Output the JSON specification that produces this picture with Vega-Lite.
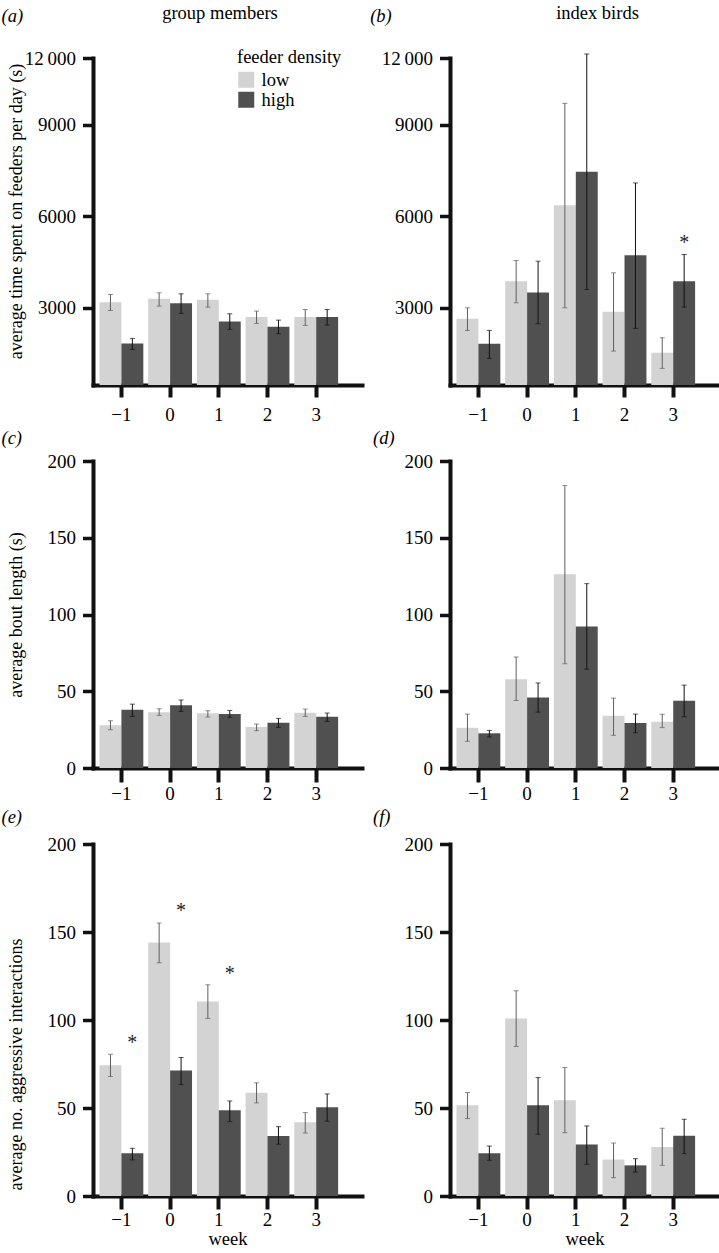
{
  "$schema": "https://vega.github.io/schema/vega-lite/v6.json",
  "padding": {"left": 1, "top": 3, "right": 0, "bottom": 0},
  "background": "white",
  "config": {
    "font": "Liberation Serif",
    "view": {"stroke": null},
    "axis": {"labelFont": "Liberation Serif", "titleFont": "Liberation Serif", "labelFontSize": 19, "titleFontSize": 18, "titleFontWeight": "normal", "labelColor": "#000", "titleColor": "#000", "domainColor": "#111", "tickColor": "#111", "domainWidth": 4, "tickWidth": 4, "domainCap": "square", "grid": false, "labelAngle": 0},
    "legend": {"labelFont": "Liberation Serif", "titleFont": "Liberation Serif", "labelFontSize": 18.5, "titleFontSize": 18.5, "titleFontWeight": "normal", "labelColor": "#000", "titleColor": "#000"},
    "title": {"font": "Liberation Serif", "fontSize": 18.5, "fontWeight": "normal", "fontStyle": "italic", "color": "#000", "anchor": "start", "frame": "bounds", "offset": 6},
    "text": {"font": "Liberation Serif"}
  },
  "datasets": {
    "bars": [
      {"panel": "a", "week": -1, "density": "low", "mean": 3185, "lo": 2913, "hi": 3436},
      {"panel": "a", "week": -1, "density": "high", "mean": 1833, "lo": 1636, "hi": 1996},
      {"panel": "a", "week": 0, "density": "low", "mean": 3295, "lo": 3055, "hi": 3491},
      {"panel": "a", "week": 0, "density": "high", "mean": 3153, "lo": 2815, "hi": 3458},
      {"panel": "a", "week": 1, "density": "low", "mean": 3262, "lo": 3022, "hi": 3458},
      {"panel": "a", "week": 1, "density": "high", "mean": 2553, "lo": 2291, "hi": 2804},
      {"panel": "a", "week": 2, "density": "low", "mean": 2695, "lo": 2487, "hi": 2891},
      {"panel": "a", "week": 2, "density": "high", "mean": 2378, "lo": 2149, "hi": 2596},
      {"panel": "a", "week": 3, "density": "low", "mean": 2695, "lo": 2422, "hi": 2945},
      {"panel": "a", "week": 3, "density": "high", "mean": 2695, "lo": 2433, "hi": 2945},
      {"panel": "b", "week": -1, "density": "low", "mean": 2640, "lo": 2258, "hi": 3000},
      {"panel": "b", "week": -1, "density": "high", "mean": 1822, "lo": 1342, "hi": 2258},
      {"panel": "b", "week": 0, "density": "low", "mean": 3873, "lo": 3164, "hi": 4549},
      {"panel": "b", "week": 0, "density": "high", "mean": 3502, "lo": 2476, "hi": 4527},
      {"panel": "b", "week": 1, "density": "low", "mean": 6360, "lo": 3000, "hi": 9960},
      {"panel": "b", "week": 1, "density": "high", "mean": 7462, "lo": 3600, "hi": 12180},
      {"panel": "b", "week": 2, "density": "low", "mean": 2869, "lo": 1582, "hi": 4146},
      {"panel": "b", "week": 2, "density": "high", "mean": 4724, "lo": 2324, "hi": 7091},
      {"panel": "b", "week": 3, "density": "low", "mean": 1527, "lo": 1014, "hi": 2018},
      {"panel": "b", "week": 3, "density": "high", "mean": 3873, "lo": 3022, "hi": 4746},
      {"panel": "c", "week": -1, "density": "low", "mean": 27.8, "lo": 24.9, "hi": 30.8},
      {"panel": "c", "week": -1, "density": "high", "mean": 38, "lo": 33.6, "hi": 41.6},
      {"panel": "c", "week": 0, "density": "low", "mean": 36.4, "lo": 34.3, "hi": 38.6},
      {"panel": "c", "week": 0, "density": "high", "mean": 40.8, "lo": 36.9, "hi": 44.3},
      {"panel": "c", "week": 1, "density": "low", "mean": 35.6, "lo": 33.2, "hi": 37.3},
      {"panel": "c", "week": 1, "density": "high", "mean": 35.1, "lo": 33, "hi": 37.5},
      {"panel": "c", "week": 2, "density": "low", "mean": 26.7, "lo": 24.3, "hi": 28.6},
      {"panel": "c", "week": 2, "density": "high", "mean": 29.5, "lo": 26.5, "hi": 32.3},
      {"panel": "c", "week": 3, "density": "low", "mean": 36, "lo": 33.6, "hi": 38.4},
      {"panel": "c", "week": 3, "density": "high", "mean": 33.4, "lo": 30.4, "hi": 35.8},
      {"panel": "d", "week": -1, "density": "low", "mean": 26.2, "lo": 17.4, "hi": 35.1},
      {"panel": "d", "week": -1, "density": "high", "mean": 22.6, "lo": 20.2, "hi": 24.5},
      {"panel": "d", "week": 0, "density": "low", "mean": 57.8, "lo": 43.9, "hi": 72.3},
      {"panel": "d", "week": 0, "density": "high", "mean": 45.9, "lo": 36.4, "hi": 55.4},
      {"panel": "d", "week": 1, "density": "low", "mean": 126.2, "lo": 67.9, "hi": 184},
      {"panel": "d", "week": 1, "density": "high", "mean": 92.2, "lo": 64.4, "hi": 120.1},
      {"panel": "d", "week": 2, "density": "low", "mean": 34, "lo": 21.3, "hi": 45.5},
      {"panel": "d", "week": 2, "density": "high", "mean": 29.3, "lo": 23, "hi": 35.1},
      {"panel": "d", "week": 3, "density": "low", "mean": 30.2, "lo": 26.3, "hi": 35},
      {"panel": "d", "week": 3, "density": "high", "mean": 43.8, "lo": 33.4, "hi": 54},
      {"panel": "e", "week": -1, "density": "low", "mean": 74.3, "lo": 67.9, "hi": 80.6},
      {"panel": "e", "week": -1, "density": "high", "mean": 24.3, "lo": 20.5, "hi": 27.1},
      {"panel": "e", "week": 0, "density": "low", "mean": 144.1, "lo": 132.5, "hi": 155.1},
      {"panel": "e", "week": 0, "density": "high", "mean": 71.3, "lo": 63.3, "hi": 78.7},
      {"panel": "e", "week": 1, "density": "low", "mean": 110.5, "lo": 100.9, "hi": 120},
      {"panel": "e", "week": 1, "density": "high", "mean": 48.7, "lo": 42.3, "hi": 54},
      {"panel": "e", "week": 2, "density": "low", "mean": 58.6, "lo": 52.9, "hi": 64.3},
      {"panel": "e", "week": 2, "density": "high", "mean": 34.1, "lo": 29.4, "hi": 39.4},
      {"panel": "e", "week": 3, "density": "low", "mean": 41.9, "lo": 35.8, "hi": 47.4},
      {"panel": "e", "week": 3, "density": "high", "mean": 50.4, "lo": 42.5, "hi": 58},
      {"panel": "f", "week": -1, "density": "low", "mean": 51.6, "lo": 44, "hi": 58.8},
      {"panel": "f", "week": -1, "density": "high", "mean": 24.3, "lo": 20.3, "hi": 28.4},
      {"panel": "f", "week": 0, "density": "low", "mean": 100.9, "lo": 84.9, "hi": 116.6},
      {"panel": "f", "week": 0, "density": "high", "mean": 51.6, "lo": 35.1, "hi": 67.3},
      {"panel": "f", "week": 1, "density": "low", "mean": 54.4, "lo": 36, "hi": 73},
      {"panel": "f", "week": 1, "density": "high", "mean": 29.2, "lo": 18, "hi": 39.8},
      {"panel": "f", "week": 2, "density": "low", "mean": 20.7, "lo": 10.4, "hi": 30.1},
      {"panel": "f", "week": 2, "density": "high", "mean": 17.4, "lo": 13.6, "hi": 21.2},
      {"panel": "f", "week": 3, "density": "low", "mean": 27.9, "lo": 17.4, "hi": 38.5},
      {"panel": "f", "week": 3, "density": "high", "mean": 34.3, "lo": 24.1, "hi": 43.6}
    ],
    "stars": [
      {"panel": "b", "week": 3, "density": "high", "pos": 5127, "label": "*"},
      {"panel": "e", "week": -1, "density": "high", "pos": 87.2, "label": "*"},
      {"panel": "e", "week": 0, "density": "high", "pos": 162.1, "label": "*"},
      {"panel": "e", "week": 1, "density": "high", "pos": 126.4, "label": "*"}
    ]
  },
  "resolve": {"scale": {"color": "independent"}, "legend": {"color": "independent"}},
  "columns": 2,
  "spacing": {"row": 4, "column": 8},
  "concat": [
    {
      "width": 269, "height": 327,
      "title": {"text": "(a)", "dx": -6, "offset": -22},
      "data": {"name": "bars"},
      "transform": [{"filter": "datum.panel === 'a'"}],
      "resolve": {"axis": {"x": "independent"}},
      "layer": [
        {"mark": {"type": "bar"},
         "encoding": {
           "x": {"field": "week", "type": "ordinal", "scale": {"type": "band", "paddingInner": 0.1, "paddingOuter": 0.312, "align": 0.214}, "axis": {"title": null, "labelExpr": "replace(datum.label, '-', '−')", "tickSize": 12, "labelPadding": 8}},
           "xOffset": {"field": "density", "type": "nominal", "sort": ["low", "high"], "scale": {"paddingInner": 0, "paddingOuter": 0}},
           "y": {"field": "mean", "type": "quantitative", "scale": {"domain": [470, 9000, 12000], "range": [327, 66.7, 0], "zero": false, "nice": false}, "axis": {"title": "average time spent on feeders per day (s)", "values": [3000, 6000, 9000, 12000], "format": "d", "labelExpr": "datum.value === 12000 ? '12\u2009000' : datum.label", "tickSize": 10.5, "tickWidth": 3.5, "labelPadding": 7, "minExtent": 66, "maxExtent": 66, "titlePadding": 1.5, "titleY": 153}},
           "y2": {"datum": 470},
           "color": {"field": "density", "type": "nominal", "sort": ["low", "high"], "scale": {"domain": ["low", "high"], "range": ["#d3d3d3", "#505050"]}, "legend": {"title": "feeder density", "orient": "none", "legendX": 144, "legendY": -10, "symbolType": "square", "symbolSize": 256, "symbolStrokeWidth": 0, "titlePadding": 4, "rowPadding": 1, "labelOffset": 6, "padding": 0}}
         }},
        {"mark": {"type": "rule", "strokeWidth": 1},
         "encoding": {
           "x": {"field": "week", "type": "ordinal", "axis": {"orient": "top", "title": "group members", "titleFontSize": 18.5, "labels": false, "ticks": false, "domain": false, "minExtent": 0, "maxExtent": 0, "titlePadding": 36, "titleX": 126.5}},
           "xOffset": {"field": "density", "type": "nominal", "sort": ["low", "high"]},
           "y": {"field": "lo", "type": "quantitative", "scale": {"domain": [470, 9000, 12000], "range": [327, 66.7, 0], "zero": false, "nice": false}},
           "y2": {"field": "hi"},
           "color": {"condition": {"test": "datum.density === 'low'", "value": "#5f5f5f"}, "value": "#111111"}
         }},
        {"mark": {"type": "tick", "size": 5, "thickness": 1},
         "encoding": {
           "x": {"field": "week", "type": "ordinal", "axis": null},
           "xOffset": {"field": "density", "type": "nominal", "sort": ["low", "high"]},
           "y": {"field": "lo", "type": "quantitative", "scale": {"domain": [470, 9000, 12000], "range": [327, 66.7, 0], "zero": false, "nice": false}},
           "color": {"condition": {"test": "datum.density === 'low'", "value": "#5f5f5f"}, "value": "#111111"}
         }},
        {"mark": {"type": "tick", "size": 5, "thickness": 1},
         "encoding": {
           "x": {"field": "week", "type": "ordinal", "axis": null},
           "xOffset": {"field": "density", "type": "nominal", "sort": ["low", "high"]},
           "y": {"field": "hi", "type": "quantitative", "scale": {"domain": [470, 9000, 12000], "range": [327, 66.7, 0], "zero": false, "nice": false}},
           "color": {"condition": {"test": "datum.density === 'low'", "value": "#5f5f5f"}, "value": "#111111"}
         }}
      ]
    },
    {
      "width": 269, "height": 327,
      "title": {"text": "(b)", "dx": -11, "offset": -22},
      "data": {"name": "bars"},
      "transform": [{"filter": "datum.panel === 'b'"}],
      "resolve": {"axis": {"x": "independent"}},
      "layer": [
        {"mark": {"type": "bar"},
         "encoding": {
           "x": {"field": "week", "type": "ordinal", "scale": {"type": "band", "paddingInner": 0.1, "paddingOuter": 0.312, "align": 0.214}, "axis": {"title": null, "labelExpr": "replace(datum.label, '-', '−')", "tickSize": 12, "labelPadding": 8}},
           "xOffset": {"field": "density", "type": "nominal", "sort": ["low", "high"], "scale": {"paddingInner": 0, "paddingOuter": 0}},
           "y": {"field": "mean", "type": "quantitative", "scale": {"domain": [470, 9000, 12000], "range": [327, 66.7, 0], "zero": false, "nice": false}, "axis": {"title": null, "values": [3000, 6000, 9000, 12000], "format": "d", "labelExpr": "datum.value === 12000 ? '12\u2009000' : datum.label", "tickSize": 10.5, "tickWidth": 3.5, "labelPadding": 7, "minExtent": 66, "maxExtent": 66}},
           "y2": {"datum": 470},
           "color": {"field": "density", "type": "nominal", "sort": ["low", "high"], "scale": {"domain": ["low", "high"], "range": ["#d3d3d3", "#505050"]}, "legend": null}
         }},
        {"mark": {"type": "rule", "strokeWidth": 1},
         "encoding": {
           "x": {"field": "week", "type": "ordinal", "axis": {"orient": "top", "title": "index birds", "titleFontSize": 18.5, "labels": false, "ticks": false, "domain": false, "minExtent": 0, "maxExtent": 0, "titlePadding": 36, "titleX": 147}},
           "xOffset": {"field": "density", "type": "nominal", "sort": ["low", "high"]},
           "y": {"field": "lo", "type": "quantitative", "scale": {"domain": [470, 9000, 12000], "range": [327, 66.7, 0], "zero": false, "nice": false}},
           "y2": {"field": "hi"},
           "color": {"condition": {"test": "datum.density === 'low'", "value": "#5f5f5f"}, "value": "#111111"}
         }},
        {"mark": {"type": "tick", "size": 5, "thickness": 1},
         "encoding": {
           "x": {"field": "week", "type": "ordinal", "axis": null},
           "xOffset": {"field": "density", "type": "nominal", "sort": ["low", "high"]},
           "y": {"field": "lo", "type": "quantitative", "scale": {"domain": [470, 9000, 12000], "range": [327, 66.7, 0], "zero": false, "nice": false}},
           "color": {"condition": {"test": "datum.density === 'low'", "value": "#5f5f5f"}, "value": "#111111"}
         }},
        {"mark": {"type": "tick", "size": 5, "thickness": 1},
         "encoding": {
           "x": {"field": "week", "type": "ordinal", "axis": null},
           "xOffset": {"field": "density", "type": "nominal", "sort": ["low", "high"]},
           "y": {"field": "hi", "type": "quantitative", "scale": {"domain": [470, 9000, 12000], "range": [327, 66.7, 0], "zero": false, "nice": false}},
           "color": {"condition": {"test": "datum.density === 'low'", "value": "#5f5f5f"}, "value": "#111111"}
         }},
        {"data": {"name": "stars"},
         "transform": [{"filter": "datum.panel === 'b'"}],
         "mark": {"type": "text", "fontSize": 20, "baseline": "middle", "color": "#222"},
         "encoding": {
           "x": {"field": "week", "type": "ordinal", "axis": null},
           "xOffset": {"field": "density", "type": "nominal", "sort": ["low", "high"]},
           "y": {"field": "pos", "type": "quantitative", "scale": {"domain": [470, 9000, 12000], "range": [327, 66.7, 0], "zero": false, "nice": false}},
           "text": {"field": "label"}
         }}
      ]
    },
    {
      "width": 269, "height": 307,
      "title": {"text": "(c)", "dx": -6, "offset": 5},
      "data": {"name": "bars"},
      "transform": [{"filter": "datum.panel === 'c'"}],
      "layer": [
        {"mark": {"type": "bar"},
         "encoding": {
           "x": {"field": "week", "type": "ordinal", "scale": {"type": "band", "paddingInner": 0.1, "paddingOuter": 0.312, "align": 0.214}, "axis": {"title": null, "labelExpr": "replace(datum.label, '-', '−')", "tickSize": 14, "labelPadding": 2}},
           "xOffset": {"field": "density", "type": "nominal", "sort": ["low", "high"], "scale": {"paddingInner": 0, "paddingOuter": 0}},
           "y": {"field": "mean", "type": "quantitative", "scale": {"domain": [0, 200], "nice": false}, "axis": {"title": "average bout length (s)", "values": [0, 50, 100, 150, 200], "format": "d", "tickSize": 10.5, "tickWidth": 3.5, "labelPadding": 7, "minExtent": 66, "maxExtent": 66, "titlePadding": 1.5}},
           "color": {"field": "density", "type": "nominal", "sort": ["low", "high"], "scale": {"domain": ["low", "high"], "range": ["#d3d3d3", "#505050"]}, "legend": null}
         }},
        {"mark": {"type": "rule", "strokeWidth": 1},
         "encoding": {
           "x": {"field": "week", "type": "ordinal"},
           "xOffset": {"field": "density", "type": "nominal", "sort": ["low", "high"]},
           "y": {"field": "lo", "type": "quantitative"},
           "y2": {"field": "hi"},
           "color": {"condition": {"test": "datum.density === 'low'", "value": "#5f5f5f"}, "value": "#111111"}
         }},
        {"mark": {"type": "tick", "size": 5, "thickness": 1},
         "encoding": {
           "x": {"field": "week", "type": "ordinal"},
           "xOffset": {"field": "density", "type": "nominal", "sort": ["low", "high"]},
           "y": {"field": "lo", "type": "quantitative"},
           "color": {"condition": {"test": "datum.density === 'low'", "value": "#5f5f5f"}, "value": "#111111"}
         }},
        {"mark": {"type": "tick", "size": 5, "thickness": 1},
         "encoding": {
           "x": {"field": "week", "type": "ordinal"},
           "xOffset": {"field": "density", "type": "nominal", "sort": ["low", "high"]},
           "y": {"field": "hi", "type": "quantitative"},
           "color": {"condition": {"test": "datum.density === 'low'", "value": "#5f5f5f"}, "value": "#111111"}
         }}
      ]
    },
    {
      "width": 269, "height": 307,
      "title": {"text": "(d)", "dx": -11, "offset": 5},
      "data": {"name": "bars"},
      "transform": [{"filter": "datum.panel === 'd'"}],
      "layer": [
        {"mark": {"type": "bar"},
         "encoding": {
           "x": {"field": "week", "type": "ordinal", "scale": {"type": "band", "paddingInner": 0.1, "paddingOuter": 0.312, "align": 0.214}, "axis": {"title": null, "labelExpr": "replace(datum.label, '-', '−')", "tickSize": 14, "labelPadding": 2}},
           "xOffset": {"field": "density", "type": "nominal", "sort": ["low", "high"], "scale": {"paddingInner": 0, "paddingOuter": 0}},
           "y": {"field": "mean", "type": "quantitative", "scale": {"domain": [0, 200], "nice": false}, "axis": {"title": null, "values": [0, 50, 100, 150, 200], "format": "d", "tickSize": 10.5, "tickWidth": 3.5, "labelPadding": 7, "minExtent": 66, "maxExtent": 66}},
           "color": {"field": "density", "type": "nominal", "sort": ["low", "high"], "scale": {"domain": ["low", "high"], "range": ["#d3d3d3", "#505050"]}, "legend": null}
         }},
        {"mark": {"type": "rule", "strokeWidth": 1},
         "encoding": {
           "x": {"field": "week", "type": "ordinal"},
           "xOffset": {"field": "density", "type": "nominal", "sort": ["low", "high"]},
           "y": {"field": "lo", "type": "quantitative"},
           "y2": {"field": "hi"},
           "color": {"condition": {"test": "datum.density === 'low'", "value": "#5f5f5f"}, "value": "#111111"}
         }},
        {"mark": {"type": "tick", "size": 5, "thickness": 1},
         "encoding": {
           "x": {"field": "week", "type": "ordinal"},
           "xOffset": {"field": "density", "type": "nominal", "sort": ["low", "high"]},
           "y": {"field": "lo", "type": "quantitative"},
           "color": {"condition": {"test": "datum.density === 'low'", "value": "#5f5f5f"}, "value": "#111111"}
         }},
        {"mark": {"type": "tick", "size": 5, "thickness": 1},
         "encoding": {
           "x": {"field": "week", "type": "ordinal"},
           "xOffset": {"field": "density", "type": "nominal", "sort": ["low", "high"]},
           "y": {"field": "hi", "type": "quantitative"},
           "color": {"condition": {"test": "datum.density === 'low'", "value": "#5f5f5f"}, "value": "#111111"}
         }}
      ]
    },
    {
      "width": 269, "height": 352,
      "title": {"text": "(e)", "dx": -6, "offset": 9},
      "data": {"name": "bars"},
      "transform": [{"filter": "datum.panel === 'e'"}],
      "layer": [
        {"mark": {"type": "bar"},
         "encoding": {
           "x": {"field": "week", "type": "ordinal", "scale": {"type": "band", "paddingInner": 0.1, "paddingOuter": 0.312, "align": 0.214}, "axis": {"title": "week", "titleFontSize": 18.5, "labelExpr": "replace(datum.label, '-', '−')", "tickSize": 13, "labelPadding": 1.5, "titlePadding": 0}},
           "xOffset": {"field": "density", "type": "nominal", "sort": ["low", "high"], "scale": {"paddingInner": 0, "paddingOuter": 0}},
           "y": {"field": "mean", "type": "quantitative", "scale": {"domain": [0, 200], "nice": false}, "axis": {"title": "average no. aggressive interactions", "values": [0, 50, 100, 150, 200], "format": "d", "tickSize": 10.5, "tickWidth": 3.5, "labelPadding": 7, "minExtent": 66, "maxExtent": 66, "titlePadding": 1.5, "titleY": 220}},
           "color": {"field": "density", "type": "nominal", "sort": ["low", "high"], "scale": {"domain": ["low", "high"], "range": ["#d3d3d3", "#505050"]}, "legend": null}
         }},
        {"mark": {"type": "rule", "strokeWidth": 1},
         "encoding": {
           "x": {"field": "week", "type": "ordinal"},
           "xOffset": {"field": "density", "type": "nominal", "sort": ["low", "high"]},
           "y": {"field": "lo", "type": "quantitative"},
           "y2": {"field": "hi"},
           "color": {"condition": {"test": "datum.density === 'low'", "value": "#5f5f5f"}, "value": "#111111"}
         }},
        {"mark": {"type": "tick", "size": 5, "thickness": 1},
         "encoding": {
           "x": {"field": "week", "type": "ordinal"},
           "xOffset": {"field": "density", "type": "nominal", "sort": ["low", "high"]},
           "y": {"field": "lo", "type": "quantitative"},
           "color": {"condition": {"test": "datum.density === 'low'", "value": "#5f5f5f"}, "value": "#111111"}
         }},
        {"mark": {"type": "tick", "size": 5, "thickness": 1},
         "encoding": {
           "x": {"field": "week", "type": "ordinal"},
           "xOffset": {"field": "density", "type": "nominal", "sort": ["low", "high"]},
           "y": {"field": "hi", "type": "quantitative"},
           "color": {"condition": {"test": "datum.density === 'low'", "value": "#5f5f5f"}, "value": "#111111"}
         }},
        {"data": {"name": "stars"},
         "transform": [{"filter": "datum.panel === 'e'"}],
         "mark": {"type": "text", "fontSize": 20, "baseline": "middle", "color": "#222"},
         "encoding": {
           "x": {"field": "week", "type": "ordinal"},
           "xOffset": {"field": "density", "type": "nominal", "sort": ["low", "high"]},
           "y": {"field": "pos", "type": "quantitative"},
           "text": {"field": "label"}
         }}
      ]
    },
    {
      "width": 269, "height": 352,
      "title": {"text": "(f)", "dx": -11, "offset": 9},
      "data": {"name": "bars"},
      "transform": [{"filter": "datum.panel === 'f'"}],
      "layer": [
        {"mark": {"type": "bar"},
         "encoding": {
           "x": {"field": "week", "type": "ordinal", "scale": {"type": "band", "paddingInner": 0.1, "paddingOuter": 0.312, "align": 0.214}, "axis": {"title": "week", "titleFontSize": 18.5, "labelExpr": "replace(datum.label, '-', '−')", "tickSize": 13, "labelPadding": 1.5, "titlePadding": 0}},
           "xOffset": {"field": "density", "type": "nominal", "sort": ["low", "high"], "scale": {"paddingInner": 0, "paddingOuter": 0}},
           "y": {"field": "mean", "type": "quantitative", "scale": {"domain": [0, 200], "nice": false}, "axis": {"title": null, "values": [0, 50, 100, 150, 200], "format": "d", "tickSize": 10.5, "tickWidth": 3.5, "labelPadding": 7, "minExtent": 66, "maxExtent": 66}},
           "color": {"field": "density", "type": "nominal", "sort": ["low", "high"], "scale": {"domain": ["low", "high"], "range": ["#d3d3d3", "#505050"]}, "legend": null}
         }},
        {"mark": {"type": "rule", "strokeWidth": 1},
         "encoding": {
           "x": {"field": "week", "type": "ordinal"},
           "xOffset": {"field": "density", "type": "nominal", "sort": ["low", "high"]},
           "y": {"field": "lo", "type": "quantitative"},
           "y2": {"field": "hi"},
           "color": {"condition": {"test": "datum.density === 'low'", "value": "#5f5f5f"}, "value": "#111111"}
         }},
        {"mark": {"type": "tick", "size": 5, "thickness": 1},
         "encoding": {
           "x": {"field": "week", "type": "ordinal"},
           "xOffset": {"field": "density", "type": "nominal", "sort": ["low", "high"]},
           "y": {"field": "lo", "type": "quantitative"},
           "color": {"condition": {"test": "datum.density === 'low'", "value": "#5f5f5f"}, "value": "#111111"}
         }},
        {"mark": {"type": "tick", "size": 5, "thickness": 1},
         "encoding": {
           "x": {"field": "week", "type": "ordinal"},
           "xOffset": {"field": "density", "type": "nominal", "sort": ["low", "high"]},
           "y": {"field": "hi", "type": "quantitative"},
           "color": {"condition": {"test": "datum.density === 'low'", "value": "#5f5f5f"}, "value": "#111111"}
         }}
      ]
    }
  ]
}
